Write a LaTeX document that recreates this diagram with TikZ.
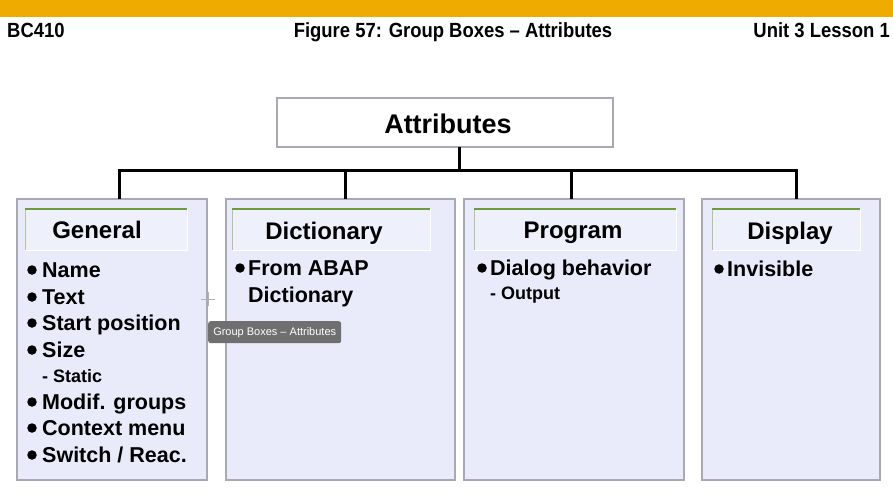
\documentclass[tikz,border=0pt]{standalone}
\usepackage{fontspec}
\setmainfont{Liberation Sans}
\newfontfamily\hdrfont{Liberation Sans}[FakeStretch=0.9]
\definecolor{sapgold}{HTML}{F0AB00}
\definecolor{panelfill}{HTML}{E9EBFA}
\definecolor{panelline}{HTML}{A9A9B3}
\definecolor{titlefill}{HTML}{EEF0FB}
\definecolor{titlegreen}{HTML}{6E9A3C}
\definecolor{tipgray}{HTML}{6F6F6F}
\tikzset{
  panel/.style={draw=panelline, line width=1.3pt, fill=panelfill, anchor=north west, inner sep=0pt, outer sep=0pt},
  ttext/.style={font=\bfseries\fontsize{24}{28}\selectfont, inner sep=0pt, anchor=base},
  item/.style={font=\bfseries\fontsize{21.5}{26}\selectfont, inner sep=0pt, anchor=base west},
  subitem/.style={font=\bfseries\fontsize{18}{22}\selectfont, inner sep=0pt, anchor=base west},
  bul/.style={circle, fill=black, inner sep=0pt, minimum size=9.5pt},
  hdr/.style={font=\hdrfont\bfseries\fontsize{20.5}{24}\selectfont, inner sep=0pt, anchor=base},
  conn/.style={line width=3pt, black},
}
\begin{document}
\begin{tikzpicture}[x=1pt,y=-1pt]
\useasboundingbox (0,0) rectangle (893,497);
\fill[white] (0,0) rectangle (893,497);
% header
\fill[sapgold] (0,0) rectangle (893,17);
\node[hdr, anchor=base west] (h1) at (7,38) {BC410};
\node[hdr] (h2) at (453,38) {Figure 57: Group Boxes – Attributes};
\node[hdr, anchor=base east] (h3) at (890,38) {Unit 3 Lesson 1};
% top box
\node[draw=panelline, line width=1.3pt, fill=white, minimum width=336pt, minimum height=49pt, inner sep=0pt, outer sep=0pt, anchor=north west] (attr) at (277,98) {};
\node[font=\bfseries\fontsize{27}{32}\selectfont, inner sep=0pt, anchor=base] (attrt) at (448,134) {Attributes};
% panels
\node[panel, minimum width=190pt, minimum height=281pt] (gen) at (17,199) {};
\node[panel, minimum width=229pt, minimum height=281pt] (dic) at (226,199) {};
\node[panel, minimum width=220pt, minimum height=281pt] (prg) at (464,199) {};
\node[panel, minimum width=178pt, minimum height=281pt] (dsp) at (702,199) {};
% connectors
\coordinate (bus) at (459,171);
\coordinate (j1) at (119,171);
\coordinate (j2) at (345,171);
\coordinate (j3) at (571,171);
\coordinate (j4) at (796,171);
\draw[conn] (attr.south -| bus) -- (bus);
\draw[conn, line cap=rect] (j1) -- (j4);
\draw[conn] (j1) -- (j1 |- gen.north);
\draw[conn] (j2) -- (j2 |- dic.north);
\draw[conn] (j3) -- (j3 |- prg.north);
\draw[conn] (j4) -- (j4 |- dsp.north);
% title boxes
\foreach \n/\xa/\xb in {tg/25/187, td/232/430, tp/474/676, ts/712/860}{
  \fill[titlefill] (\xa,209) rectangle (\xb,250);
  \draw[white, line width=1pt] (\xb,209) -- (\xb,250) -- (\xa,250);
  \draw[titlegreen!55, line width=1pt] (\xa,250) -- (\xa,209);
  \draw[titlegreen, line width=1.2pt] (\xa,209) -- (\xb,209);
}
\node[ttext] (tgt) at (97,238) {General};
\node[ttext] (tdt) at (324,239) {Dictionary};
\node[ttext] (tpt) at (573,238) {Program};
\node[ttext] (tst) at (790,239) {Display};
% General items
\foreach \y/\t [count=\i] in {270/{Name}, 297/{Text}, 323/{Start position}, 350/{Size}, 402/{Modif. groups}, 428/{Context menu}, 455/{Switch / Reac.}}{
  \node[bul] (gb\i) at (32,\y) {};
  \node[item] (gi\i) at (42,\y+7.5) {\t};
}
\node[subitem] (gs) at (42,382) {- Static};
% Dictionary items
\node[bul] (db1) at (240,268) {};
\node[item] (di1) at (248,275.5) {From ABAP};
\node[item] (di2) at (248,302.5) {Dictionary};
% Program items
\node[bul] (pb1) at (482,268) {};
\node[item] (pi1) at (490,275.5) {Dialog behavior};
\node[subitem] (ps1) at (490,299.5) {- Output};
% Display items
\node[bul] (sb1) at (719,269) {};
\node[item] (si1) at (727,276.5) {Invisible};
% tooltip and cursor
\node[fill=tipgray, rounded corners=2.5pt, minimum width=133pt, minimum height=22pt, inner sep=0pt, anchor=north west, text=white, font=\fontsize{11}{13}\selectfont] (tip) at (208,321) {Group Boxes – Attributes};
\coordinate (cur) at (208,299);
\draw[gray!60, line width=0.8pt] ([xshift=-7pt]cur) -- ([xshift=7pt]cur);
\draw[gray!60, line width=0.8pt] ([yshift=-7pt]cur) -- ([yshift=7pt]cur);
\end{tikzpicture}
\end{document}
